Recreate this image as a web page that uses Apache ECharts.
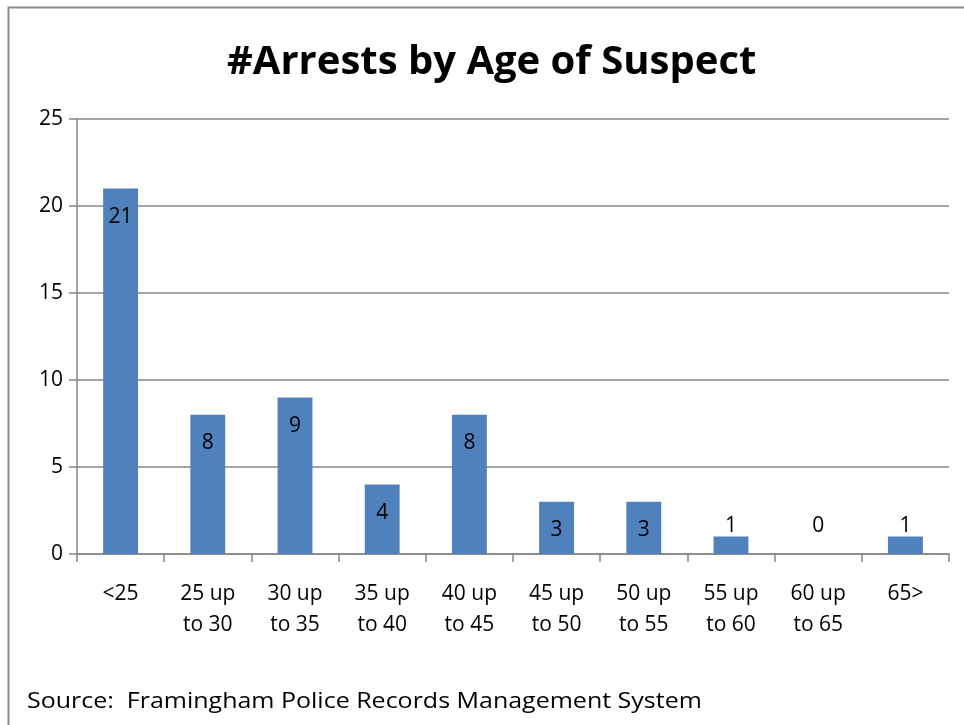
<!DOCTYPE html>
<html>
<head>
<meta charset="utf-8">
<script src="https://cdn.jsdelivr.net/npm/echarts@6/dist/echarts.min.js"></script>
<style>
  html, body { margin: 0; padding: 0; background: #fff; }
  #chart { width: 964px; height: 725px; }
</style>
</head>
<body>
<div id="chart"></div>
<script>
// chart data
const categories = ['<25', '25 up\nto 30', '30 up\nto 35', '35 up\nto 40', '40 up\nto 45',
  '45 up\nto 50', '50 up\nto 55', '55 up\nto 60', '60 up\nto 65', '65>']
const arrests = [21, 8, 9, 4, 8, 3, 3, 1, 0, 1]
const yTicks = [0, 5, 10, 15, 20, 25]

const fontFamily = '"Open Sans", Lato, sans-serif'
const lineGray = '#868686'

const chart = echarts.init(document.getElementById('chart'))

// short bars get their label above the bar, like Excel does
const barData = arrests.map((v) => ({
  value: v,
  label: v <= 1 ? { position: 'top', distance: v === 0 ? 17 : 0 } : undefined,
}))

chart.setOption({
  animation: false,
  title: {
    text: '#Arrests by Age of Suspect',
    left: 222,
    top: 38,
    textStyle: { fontFamily, fontSize: 40, fontWeight: 'bold', color: '#000' },
  },
  graphic: [
    {
      // outer chart border, only left and top edges are in frame
      type: 'rect',
      shape: { x: 8.5, y: 7.5, width: 1000, height: 800 },
      style: { fill: 'none', stroke: '#8c8c8c', lineWidth: 2 },
      silent: true,
    },
    {
      // the source line is rendered wide in the original, stretch it a bit
      type: 'text',
      x: 27,
      y: 692,
      scaleX: 1.19,
      style: {
        text: 'Source:  Framingham Police Records Management System',
        font: '21px ' + fontFamily,
        fill: '#000',
      },
    },
  ],
  grid: { left: 77, right: 15, top: 119, bottom: 171 },
  xAxis: {
    type: 'category',
    data: categories,
    axisLine: { lineStyle: { color: lineGray, width: 1.5 } },
    axisTick: { show: true, length: 8, alignWithLabel: false, lineStyle: { color: lineGray, width: 1.5 } },
    axisLabel: {
      color: '#000',
      fontFamily,
      fontSize: 21,
      lineHeight: 31,
      margin: 25,
      interval: 0,
    },
  },
  yAxis: {
    type: 'value',
    min: yTicks[0],
    max: yTicks[yTicks.length - 1],
    interval: 5,
    axisLine: { show: true, lineStyle: { color: lineGray, width: 1.5 } },
    axisTick: { show: true, length: 8, lineStyle: { color: lineGray, width: 1.5 } },
    axisLabel: { color: '#000', fontFamily, fontSize: 21, margin: 14 },
    splitLine: { lineStyle: { color: lineGray, width: 1.5 } },
  },
  series: [
    {
      type: 'bar',
      data: barData,
      barWidth: '40%',
      itemStyle: { color: '#4f81bd' },
      label: {
        show: true,
        position: 'insideTop',
        distance: 18,
        color: '#000',
        fontFamily,
        fontSize: 21,
      },
    },
  ],
})
</script>
</body>
</html>
